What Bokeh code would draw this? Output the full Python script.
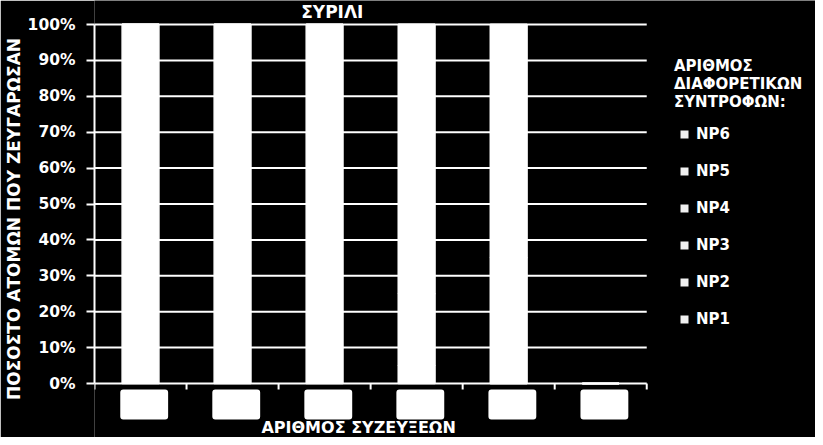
from bokeh.plotting import figure
from bokeh.models import Range1d, ColumnDataSource, FixedTicker, Legend, LegendItem, Label
from bokeh.embed import file_html
from bokeh.resources import INLINE

# ---------------- data ----------------
TITLE = "ΣΥΡΙΛΙ"
Y_AXIS_TITLE = "ΠΟΣΟΣΤΟ ΑΤΟΜΩΝ ΠΟΥ ΖΕΥΓΑΡΩΣΑΝ"
X_AXIS_TITLE = "ΑΡΙΘΜΟΣ ΣΥΖΕΥΞΕΩΝ"
LEGEND_TITLE_LINES = ["ΑΡΙΘΜΟΣ", "ΔΙΑΦΟΡΕΤΙΚΩΝ", "ΣΥΝΤΡΟΦΩΝ:"]

CATEGORIES = ["1", "2", "3", "4", "5", "6"]
SERIES = ["NP1", "NP2", "NP3", "NP4", "NP5", "NP6"]
NP1 = [100, 30, 10, 5, 0, 0]
NP2 = [0, 70, 40, 20, 10, 0]
NP3 = [0, 0, 50, 35, 25, 0]
NP4 = [0, 0, 0, 40, 35, 0]
NP5 = [0, 0, 0, 0, 30, 0]
NP6 = [0, 0, 0, 0, 0, 0]

Y_TICKS = [0, 10, 20, 30, 40, 50, 60, 70, 80, 90, 100]
Y_TICK_LABELS = ["0%", "10%", "20%", "30%", "40%", "50%", "60%", "70%", "80%", "90%", "100%"]

# ---------------- style / layout ----------------
W, H = 815, 437
FRAME_L = 93                 # canvas x of the y axis
PLOT_R = 646                 # canvas x where the category area ends
Y100_PX, Y0_PX = 24, 383     # canvas y of the 100% and 0% lines
N = len(CATEGORIES)
CAT_W = (PLOT_R - FRAME_L) / N
PPU = (Y0_PX - Y100_PX) / 100.0
X_END = (W - FRAME_L) / CAT_W
Y_MAX = 100 + Y100_PX / PPU
Y_MIN = -(H - Y0_PX) / PPU


def px2x(px):
    return (px - FRAME_L) / CAT_W


def py2y(py):
    return (Y0_PX - py) / PPU


FONT = "DejaVu Sans"
BAR_WIDTH = 0.4
BOX_HALF = 0.26
BOX_SHIFT = 0.04
BOX_TOP = py2y(389)
BOX_BOTTOM = py2y(419)
TICK_END = py2y(389)
SERIES_COLORS = ["#ffffff"] * 6
LEGEND_SWATCH = "#f0f0f0"

p = figure(width=W, height=H, x_range=Range1d(0, X_END), y_range=Range1d(Y_MIN, Y_MAX),
           x_axis_type=None, output_backend="svg", toolbar_location=None,
           min_border_left=FRAME_L, min_border_right=0, min_border_top=0, min_border_bottom=0,
           background_fill_color="black", border_fill_color="black", outline_line_color=None)

xs = [i + 0.5 for i in range(N)]
data = {"x": xs, "NP1": NP1, "NP2": NP2, "NP3": NP3, "NP4": NP4, "NP5": NP5, "NP6": NP6}
src = ColumnDataSource(data)

# horizontal gridlines across the category area
p.grid.visible = False
p.segment(x0=[0] * len(Y_TICKS), x1=[N] * len(Y_TICKS), y0=Y_TICKS, y1=Y_TICKS,
          line_color="white", line_width=2)

p.vbar_stack(SERIES, x="x", width=BAR_WIDTH, source=src, fill_color=SERIES_COLORS,
             line_color=SERIES_COLORS, line_width=1.5)

# category axis: tick marks at category boundaries and white label boxes
p.segment(x0=list(range(N + 1)), x1=list(range(N + 1)), y0=[0] * (N + 1), y1=[TICK_END] * (N + 1),
          line_color="white", line_width=2)
box = p.quad(left=[x + BOX_SHIFT - BOX_HALF for x in xs], right=[x + BOX_SHIFT + BOX_HALF for x in xs],
             top=[BOX_TOP] * N, bottom=[BOX_BOTTOM] * N, fill_color="white", line_color=None)
try:
    box.glyph.border_radius = 3
except Exception:
    pass

# y axis
p.yaxis.ticker = FixedTicker(ticks=Y_TICKS)
p.yaxis.major_label_overrides = {t: lab for t, lab in zip(Y_TICKS, Y_TICK_LABELS)}
p.yaxis.bounds = (0, 100)
p.yaxis.axis_line_color = "white"
p.yaxis.axis_line_width = 2
p.yaxis.major_tick_line_color = "white"
p.yaxis.major_tick_line_width = 2
p.yaxis.major_tick_out = 8
p.yaxis.major_tick_in = 0
p.yaxis.minor_tick_line_color = None
p.yaxis.major_label_standoff = 11
p.yaxis.major_label_text_color = "white"
p.yaxis.major_label_text_font = FONT
p.yaxis.major_label_text_font_style = "bold"
p.yaxis.major_label_text_font_size = "15.5px"
p.yaxis.axis_label = Y_AXIS_TITLE
p.yaxis.axis_label_standoff = 1
p.yaxis.axis_label_text_color = "white"
p.yaxis.axis_label_text_font = FONT
p.yaxis.axis_label_text_font_style = "bold"
p.yaxis.axis_label_text_font_size = "17px"


def add_text(text, x, y, size, align="left"):
    p.add_layout(Label(x=x, y=y, text=text, text_color="white", text_font=FONT,
                       text_font_style="bold", text_font_size=size,
                       text_align=align, text_baseline="alphabetic"))


add_text(TITLE, px2x(300), py2y(11), "17px")
add_text(X_AXIS_TITLE, px2x(357.5), py2y(427), "16px", align="center")

# legend (square swatches via proxy markers placed outside the visible range)
items = []
for name in reversed(SERIES):
    r = p.scatter(x=[xs[0]], y=[Y_MIN * 10], marker="square", size=8,
                  fill_color=LEGEND_SWATCH, line_color=None)
    items.append(LegendItem(label=name, renderers=[r]))
LEG_LEFT, LEG_BOTTOM = 673, 329
legend = Legend(items=items, location=(LEG_LEFT - FRAME_L, H - LEG_BOTTOM),
                margin=0, padding=0, spacing=17, glyph_width=20, glyph_height=20,
                label_height=20, label_standoff=2,
                background_fill_alpha=0, border_line_alpha=0,
                title="\n".join(LEGEND_TITLE_LINES), title_standoff=13,
                title_text_color="white", title_text_font=FONT, title_text_line_height=1.35,
                title_text_font_style="bold", title_text_font_size="15px",
                label_text_color="white", label_text_font=FONT,
                label_text_font_style="bold", label_text_font_size="15px")
p.add_layout(legend)

open("out.html", "w").write(file_html(p, INLINE))
